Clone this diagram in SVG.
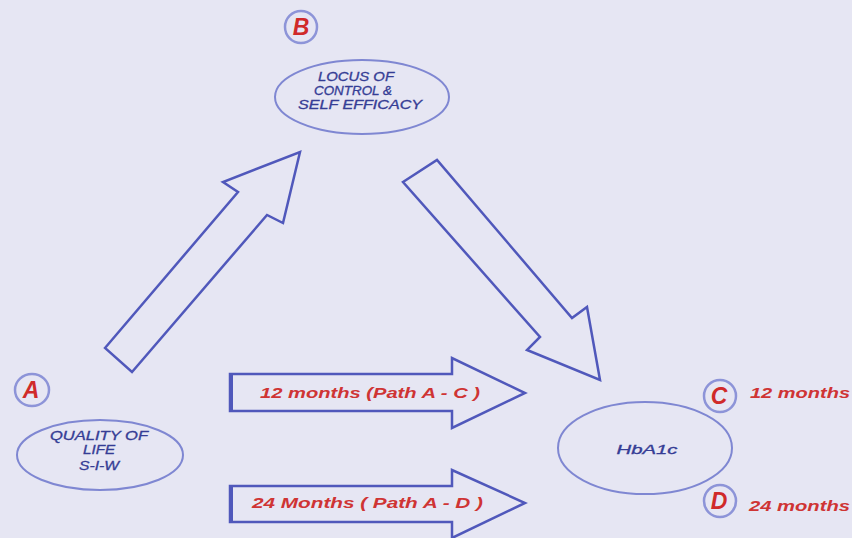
<svg xmlns="http://www.w3.org/2000/svg" width="852" height="538" viewBox="0 0 852 538">
<style>
.bg{fill:#e6e6f3}
.ell{fill:none;stroke:#7f87d2;stroke-width:2}
.lab{fill:none;stroke:#8d94d8;stroke-width:2.5}
.arr{fill:none;stroke:#5058bb;stroke-width:2.5;stroke-linejoin:miter}
.bar{stroke:#5058bb;stroke-width:4}
.nt{font-family:"Liberation Sans",Arial,sans-serif;font-style:italic;font-size:12px;fill:#353d95;text-anchor:middle;stroke:#353d95;stroke-width:0.3}
.rt{font-family:"Liberation Sans",Arial,sans-serif;font-style:italic;font-weight:bold;font-size:14px;fill:#cf3434}
.let{font-family:"Liberation Sans",Arial,sans-serif;font-style:italic;font-weight:bold;font-size:23px;fill:#d02a2a;text-anchor:middle}
</style>
<rect class="bg" x="0" y="0" width="852" height="538"/>
<g id="connectors">
  <polygon class="arr" points="105,348 238,192 223,182 300,152 283,223 267,215 132,372"/>
  <polygon class="arr" points="403,182 437,160 572,318 587,307 600,380 527,350 540,337"/>
  <g id="path-ac">
    <polygon class="arr" points="230,374 452,374 452,358 525,393 452,428 452,411 230,411"/>
    <line class="bar" x1="231" y1="374" x2="231" y2="411"/>
    <text class="rt" x="260" y="398" textLength="220" lengthAdjust="spacingAndGlyphs">12 months (Path A - C )</text>
  </g>
  <g id="path-ad">
    <polygon class="arr" points="230,486 452,486 452,470 525,503 452,538 452,522 230,522"/>
    <line class="bar" x1="231" y1="486" x2="231" y2="522"/>
    <text class="rt" x="252" y="508" textLength="231" lengthAdjust="spacingAndGlyphs">24 Months ( Path A - D )</text>
  </g>
</g>
<g id="node-b">
  <ellipse class="lab" cx="301" cy="27" rx="16" ry="16"/>
  <text class="let" x="301" y="35">B</text>
  <ellipse class="ell" cx="362" cy="97" rx="87" ry="37"/>
  <text class="nt" x="356" y="81" textLength="76" lengthAdjust="spacingAndGlyphs">LOCUS OF</text>
  <text class="nt" x="353" y="95" textLength="78" lengthAdjust="spacingAndGlyphs">CONTROL &amp;</text>
  <text class="nt" x="360" y="109" textLength="124" lengthAdjust="spacingAndGlyphs">SELF EFFICACY</text>
</g>
<g id="node-a">
  <ellipse class="lab" cx="32" cy="390" rx="17" ry="16"/>
  <text class="let" x="31" y="398">A</text>
  <ellipse class="ell" cx="100" cy="455" rx="83" ry="35"/>
  <text class="nt" x="99" y="440" textLength="98" lengthAdjust="spacingAndGlyphs">QUALITY OF</text>
  <text class="nt" x="99" y="454" textLength="32" lengthAdjust="spacingAndGlyphs">LIFE</text>
  <text class="nt" x="99" y="470" textLength="40" lengthAdjust="spacingAndGlyphs">S-I-W</text>
</g>
<g id="node-hba1c">
  <ellipse class="ell" cx="645" cy="448" rx="87" ry="46"/>
  <text class="nt" x="647" y="454" font-size="14" textLength="61" lengthAdjust="spacingAndGlyphs">HbA1c</text>
</g>
<g id="node-c">
  <ellipse class="lab" cx="720" cy="396" rx="16" ry="16"/>
  <text class="let" x="719" y="404">C</text>
  <text class="rt" x="750" y="398" textLength="100" lengthAdjust="spacingAndGlyphs">12 months</text>
</g>
<g id="node-d">
  <ellipse class="lab" cx="720" cy="501" rx="16" ry="16"/>
  <text class="let" x="719" y="509">D</text>
  <text class="rt" x="749" y="511" textLength="101" lengthAdjust="spacingAndGlyphs">24 months</text>
</g>
</svg>
